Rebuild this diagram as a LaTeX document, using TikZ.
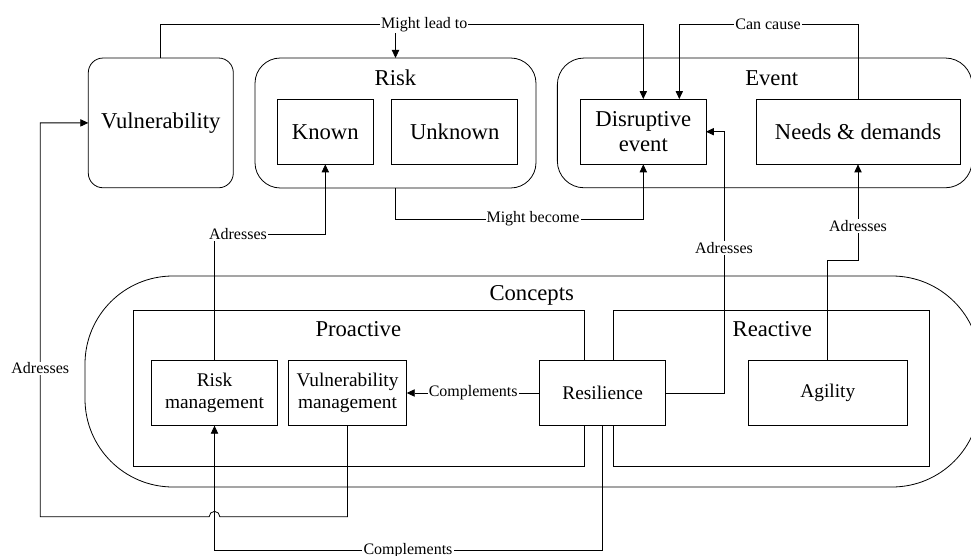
\documentclass[tikz,border=0pt]{standalone}
\usepackage{fontspec}
\setmainfont{Liberation Serif}
\usetikzlibrary{arrows.meta,calc}
\begin{document}
\begin{tikzpicture}[x=0.75pt,y=-0.75pt,
  line width=0.6pt,
  big/.style={font=\fontsize{17}{18.75}\selectfont},
  mid/.style={font=\fontsize{14.5}{16.5}\selectfont},
  lbl/.style={font=\fontsize{12}{13}\selectfont, fill=white, inner sep=0.8pt},
  container/.style={draw, rounded corners=#1, inner sep=0pt, outer sep=0pt},
  frame/.style={draw, inner sep=0pt, outer sep=0pt},
  box/.style={draw, fill=white, inner sep=0pt, outer sep=0pt, align=center},
  conn/.style={-{Triangle[length=6pt,width=5.5pt]}}
]
\useasboundingbox (0,0) rectangle (971,556);
\clip (0,0) rectangle (971,556);

% containers
\node[container=11pt, minimum width=108.75pt, minimum height=97.3pt, big] (vul) at (160.8,122.9) {Vulnerability};
\node[container=19pt, minimum width=210.75pt, minimum height=97.5pt] (risk) at (395.5,123) {};
\node[big] (risktitle) at (395.5,78) {Risk};
\node[container=20pt, minimum width=311pt, minimum height=97.3pt] (event) at (764.7,122.9) {};
\node[big] (eventtitle) at (771.7,78) {Event};
\node[container=66pt, minimum width=671.25pt, minimum height=158.25pt] (concepts) at (532.5,381.5) {};
\node[big] (concepttitle) at (531.7,295.7) {Concepts};
\node[frame, minimum width=338.25pt, minimum height=117.3pt] (pro) at (358.8,388.5) {};
\node[big] (protitle) at (358.3,329.3) {Proactive};
\node[frame, minimum width=236.7pt, minimum height=117.3pt] (rea) at (771.5,388.5) {};
\node[big] (reatitle) at (772.3,329.3) {Reactive};

% inner boxes
\node[box, big, minimum width=72pt, minimum height=49pt] (known) at (325.3,131.7) {Known};
\node[box, big, minimum width=94.5pt, minimum height=49pt] (unknown) at (454.7,131.7) {Unknown};
\node[box, big, minimum width=94pt, minimum height=49pt] (disr) at (643.3,131.7) {Disruptive\\event};
\node[box, big, minimum width=153pt, minimum height=49pt] (needs) at (858,131.7) {Needs \& demands};
\node[box, mid, minimum width=94.2pt, minimum height=49pt] (rm) at (214.5,393) {Risk\\management};
\node[box, mid, minimum width=88.8pt, minimum height=49pt] (vm) at (347.5,393) {Vulnerability\\management};
\node[box, mid, minimum width=94.5pt, minimum height=49pt] (resil) at (602.7,393) {Resilience};
\node[box, mid, minimum width=119.25pt, minimum height=49pt] (agility) at (827.8,393) {Agility};

% helper coordinates
\coordinate (top) at (0,24.5);
\coordinate (cc) at (679.3,0);
\coordinate (mb) at (0,219);
\coordinate (a1) at (0,234);
\coordinate (a2) at (724,0);
\coordinate (a3) at (0,260.7);
\coordinate (c2) at (0,550.7);
\coordinate (b) at (0,516.7);
\coordinate (lft) at (40.3,0);

% connectors
\draw[conn] (vul.north) |- (disr.north |- top) -- (disr.north);
\draw[conn] (risk.north |- top) -- (risk.north);
\node[lbl] (l1) at (424.3,24.5) {Might lead to};

\draw[conn] (needs.north) |- (cc |- top) -- (cc |- disr.north);
\node[lbl] (l2) at (768,24.5) {Can cause};

\draw[conn] (risk.south) |- (disr.south |- mb) -- (disr.south);
\node[lbl] (l3) at (533,219) {Might become};

\draw[conn] (rm.north) |- (known.south |- a1) -- (known.south);
\node[lbl] (l4) at (238,234) {Adresses};

\draw[conn] (resil.east) -| (a2 |- disr.east) -- (disr.east);
\node[lbl] (l5) at (724,248) {Adresses};

\draw[conn] (agility.north) |- (needs.south |- a3) -- (needs.south);
\node[lbl] (l6) at (858,226) {Adresses};

\draw[conn] (resil.west) -- (vm.east) node[lbl, midway] (l7) {Complements};

\draw[conn] (resil.south) |- (rm.south |- c2) -- (rm.south);
\node[lbl] (l8) at (408,550.7) {Complements};

\draw[conn] (vm.south) -- (vm.south |- b) -- ($(rm.south |- b)+(4pt,0)$)
  arc[start angle=0, end angle=180, radius=4pt] -- (lft |- b) |- (vul.west);
\node[lbl] (l9) at (40.3,368.3) {Adresses};
\end{tikzpicture}
\end{document}
